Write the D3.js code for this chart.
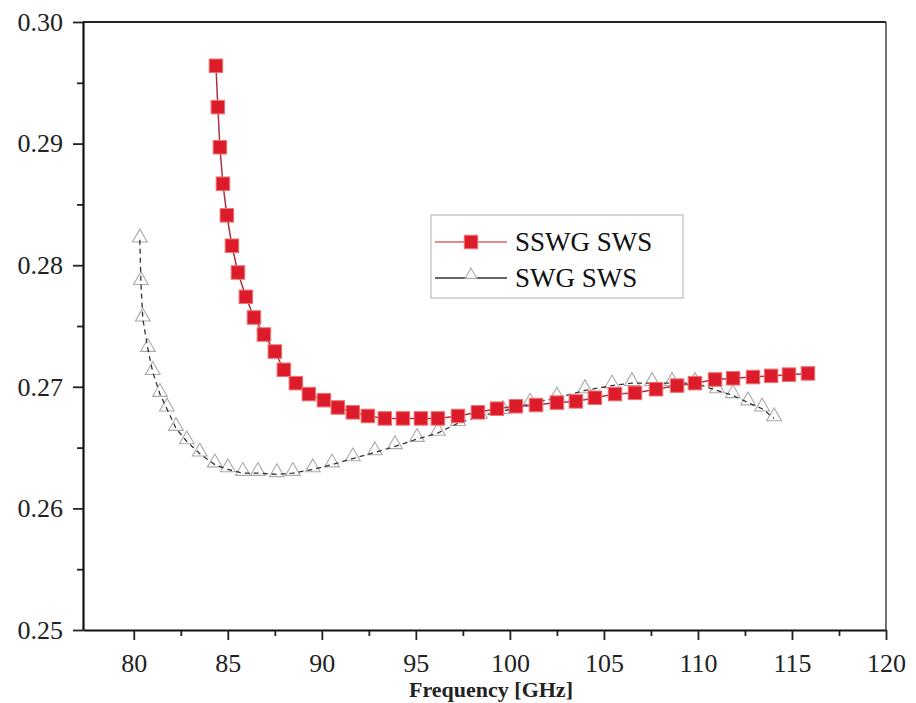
<!DOCTYPE html>
<html>
<head>
<meta charset="utf-8">
<script src="https://cdn.jsdelivr.net/npm/d3@7"></script>
<style>
  html, body { margin: 0; padding: 0; background: #fff; }
  svg { display: block; }
  text { font-family: "Liberation Serif", "DejaVu Serif", serif; }
</style>
</head>
<body>
<svg id="chart" width="916" height="703"></svg>
<script>
// ---- data ----
const sswgFreq = [84.37, 84.47, 84.58, 84.74, 84.95, 85.22, 85.54, 85.96, 86.39, 86.92,
  87.50, 87.98, 88.62, 89.31, 90.11, 90.85, 91.65, 92.45, 93.35, 94.31,
  95.27, 96.17, 97.24, 98.30, 99.31, 100.32, 101.39, 102.50, 103.51, 104.52,
  105.59, 106.65, 107.77, 108.89, 109.84, 110.91, 111.87, 112.93, 113.89, 114.84, 115.85];
const sswgPhase = [0.2964, 0.2930, 0.2897, 0.2867, 0.2841, 0.2816, 0.2794, 0.2774, 0.2757, 0.2743,
  0.2729, 0.2714, 0.2703, 0.2694, 0.2689, 0.2683, 0.2679, 0.2676, 0.2674, 0.2674,
  0.2674, 0.2674, 0.2676, 0.2679, 0.2682, 0.2684, 0.2685, 0.2687, 0.2688, 0.2691,
  0.2694, 0.2695, 0.2698, 0.2701, 0.2703, 0.2706, 0.2707, 0.2708, 0.2709, 0.2710, 0.2711];

const swgFreq = [80.32, 80.38, 80.48, 80.75, 81.01, 81.39, 81.76, 82.24, 82.82, 83.51,
  84.31, 85.00, 85.80, 86.60, 87.61, 88.46, 89.52, 90.54, 91.65, 92.82,
  93.89, 95.06, 96.17, 97.24, 98.41, 99.63, 101.07, 102.50, 103.99, 105.43,
  106.49, 107.56, 108.62, 109.84, 111.01, 111.86, 112.66, 113.41, 114.05];
const swgPhase = [0.2821, 0.2786, 0.2756, 0.2731, 0.2712, 0.2694, 0.2682, 0.2666, 0.2655, 0.2645,
  0.2636, 0.2632, 0.2629, 0.2629, 0.2628, 0.2629, 0.2632, 0.2636, 0.2641, 0.2646,
  0.2651, 0.2657, 0.2662, 0.2670, 0.2676, 0.2680, 0.2686, 0.2691, 0.2697, 0.2701,
  0.2703, 0.2703, 0.2703, 0.2703, 0.2697, 0.2693, 0.2687, 0.2682, 0.2674];

const xMajorTicks = [80, 85, 90, 95, 100, 105, 110, 115, 120];
const xMinorTicks = [82.5, 87.5, 92.5, 97.5, 102.5, 107.5, 112.5, 117.5];
const yMajorTicks = [0.25, 0.26, 0.27, 0.28, 0.29, 0.30];
const yMinorTicks = [0.255, 0.265, 0.275, 0.285, 0.295];
const seriesNames = ["SSWG SWS", "SWG SWS"];
const xTitle = "Frequency [GHz]";

// ---- layout ----
const L = 83, R = 886, T = 22, B = 630;
const svg = d3.select("#chart");

const x = d3.scaleLinear().domain([77.3, 120]).range([L, R]);
const y = d3.scaleLinear().domain([0.25, 0.30]).range([B, T]);

// frame (top & right)
svg.append("line").attr("x1", L).attr("x2", R).attr("y1", T).attr("y2", T)
  .attr("stroke", "#222").attr("stroke-width", 2);
svg.append("line").attr("x1", R).attr("x2", R).attr("y1", T).attr("y2", B)
  .attr("stroke", "#444").attr("stroke-width", 1.5);

// axes
function styleAxis(g) {
  g.select(".domain").attr("stroke", "#111").attr("stroke-width", 2.2);
  g.selectAll(".tick line").attr("stroke", "#222").attr("stroke-width", 1.8);
  g.selectAll(".tick text").attr("fill", "#222").style("font-size", "26px")
    .style("font-family", "'Liberation Serif', serif");
}

const xMinor = svg.append("g").attr("transform", `translate(0,${B})`)
  .call(d3.axisBottom(x).tickValues(xMinorTicks).tickSize(6).tickFormat(""));
styleAxis(xMinor);
xMinor.select(".domain").remove();

const xAxis = svg.append("g").attr("transform", `translate(0,${B})`)
  .call(d3.axisBottom(x).tickValues(xMajorTicks).tickSize(10).tickSizeOuter(0)
    .tickPadding(14).tickFormat(d3.format("d")));
styleAxis(xAxis);

const yMinor = svg.append("g").attr("transform", `translate(${L},0)`)
  .call(d3.axisLeft(y).tickValues(yMinorTicks).tickSize(6).tickFormat(""));
styleAxis(yMinor);
yMinor.select(".domain").remove();

const yAxis = svg.append("g").attr("transform", `translate(${L},0)`)
  .call(d3.axisLeft(y).tickValues(yMajorTicks).tickSize(10).tickSizeOuter(0)
    .tickPadding(10).tickFormat(d3.format(".2f")));
styleAxis(yAxis);

// x title
svg.append("text").attr("x", 491).attr("y", 697).attr("text-anchor", "middle")
  .style("font-size", "22px").style("font-weight", "bold").attr("fill", "#222")
  .text(xTitle);

// ---- SWG series (triangles) ----
const swg = swgFreq.map((f, i) => [f, swgPhase[i]]);
const tri = d3.symbol().type(d3.symbolTriangle).size(95);
svg.append("g").selectAll("path").data(swg).join("path")
  .attr("d", tri)
  .attr("transform", d => `translate(${x(d[0])},${y(d[1]) - 2})`)
  .attr("fill", "#fff").attr("stroke", "#aaa").attr("stroke-width", 1.1);
svg.append("path").datum(swg)
  .attr("d", d3.line().x(d => x(d[0])).y(d => y(d[1])))
  .attr("fill", "none").attr("stroke", "#333").attr("stroke-width", 1.3)
  .attr("stroke-dasharray", "5,4");

// ---- SSWG series (squares) ----
const sswg = sswgFreq.map((f, i) => [f, sswgPhase[i]]);
svg.append("path").datum(sswg)
  .attr("d", d3.line().x(d => x(d[0])).y(d => y(d[1])))
  .attr("fill", "none").attr("stroke", "#b03040").attr("stroke-width", 1.5);
const sq = 13.5;
svg.append("g").selectAll("rect").data(sswg).join("rect")
  .attr("x", d => x(d[0]) - sq / 2).attr("y", d => y(d[1]) - sq / 2)
  .attr("width", sq).attr("height", sq)
  .attr("fill", "#dc1c2a").attr("stroke", "#f07070").attr("stroke-width", 1);

// ---- legend ----
const lg = svg.append("g");
lg.append("rect").attr("x", 431).attr("y", 215).attr("width", 252).attr("height", 83)
  .attr("fill", "#fff").attr("stroke", "#bbb").attr("stroke-width", 1.2);
// row 1
lg.append("line").attr("x1", 435).attr("x2", 507).attr("y1", 242).attr("y2", 242)
  .attr("stroke", "#e88a8a").attr("stroke-width", 2);
lg.append("rect").attr("x", 471 - sq / 2).attr("y", 242 - sq / 2).attr("width", sq).attr("height", sq)
  .attr("fill", "#dc1c2a").attr("stroke", "#f07070").attr("stroke-width", 1);
lg.append("text").attr("x", 515).attr("y", 251).style("font-size", "27px").attr("fill", "#111")
  .text(seriesNames[0]);
// row 2
lg.append("line").attr("x1", 435).attr("x2", 507).attr("y1", 278).attr("y2", 278)
  .attr("stroke", "#333").attr("stroke-width", 1.5);
lg.append("path").attr("d", d3.symbol().type(d3.symbolTriangle).size(60))
  .attr("transform", "translate(471,275)")
  .attr("fill", "#fff").attr("stroke", "#aaa").attr("stroke-width", 1.1);
lg.append("text").attr("x", 515).attr("y", 287).style("font-size", "27px").attr("fill", "#111")
  .text(seriesNames[1]);
</script>
</body>
</html>
